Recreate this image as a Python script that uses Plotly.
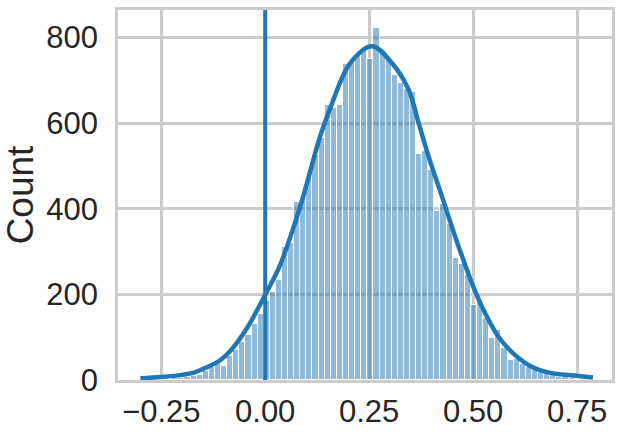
import plotly.graph_objects as go

# histogram: 74 equal bins starting at bin_start
bin_start = -0.2968
bin_width = 0.01466
counts = [
    1, 1, 2, 3, 3, 4, 5, 6, 9, 12,
    21, 30, 37, 33, 55, 71, 88, 106, 130, 155,
    185, 205, 234, 310, 321, 415, 424, 472, 526, 565,
    643, 636, 643, 738, 745, 760, 773, 750, 823, 768,
    750, 712, 695, 680, 673, 528, 534, 491, 395, 411,
    365, 284, 270, 245, 175, 187, 145, 98, 117, 74,
    47, 48, 38, 31, 24, 18, 13, 11, 8, 6,
    4, 3, 2, 1,
]

# kde curve
kde_x = [-0.300, -0.25, -0.20, -0.17, -0.14, -0.11, -0.084, -0.044, 0.0, 0.036,
         0.084, 0.132, 0.156, 0.204, 0.257, 0.305, 0.345, 0.369, 0.393, 0.425,
         0.465, 0.505, 0.529, 0.561, 0.601, 0.641, 0.689, 0.737, 0.788]
kde_y = [4, 7, 12, 18, 30, 45, 68, 121, 199, 269,
         405, 569, 634, 740, 780, 740, 678, 600, 522, 429,
         312, 207, 156, 101, 58, 31, 16, 11, 6]

ref_x = 0.0

x_ticks = [-0.25, 0.0, 0.25, 0.5, 0.75]
x_ticktext = ["\u22120.25", "0.00", "0.25", "0.50", "0.75"]
y_ticks = [0, 200, 400, 600, 800]

C0 = "#1f77b4"
GRID = "#cccccc"
TEXT = "#262626"

centers = [bin_start + (i + 0.5) * bin_width for i in range(len(counts))]

fig = go.Figure()
fig.add_trace(go.Bar(
    x=centers, y=counts, width=bin_width,
    marker=dict(color="rgba(31,119,180,0.5)", line=dict(color="white", width=1)),
    hoverinfo="skip",
))
fig.add_trace(go.Scatter(
    x=kde_x, y=kde_y, mode="lines",
    line=dict(color=C0, width=4.5, shape="spline", smoothing=1.0),
    hoverinfo="skip",
))
fig.add_vline(x=ref_x, line=dict(color=C0, width=4))

fig.update_layout(
    width=625, height=440,
    paper_bgcolor="white", plot_bgcolor="white",
    font=dict(family="Liberation Sans, Arial, sans-serif", size=31, color=TEXT),
    margin=dict(l=118, r=13, t=10, b=60),
    showlegend=False,
    bargap=0,
)
fig.update_xaxes(
    range=[-0.354, 0.834], automargin=False,
    tickvals=x_ticks, ticktext=x_ticktext,
    showgrid=True, gridcolor=GRID, gridwidth=2.5,
    showline=True, mirror=True, linecolor=GRID, linewidth=2.5,
    zeroline=False,
    ticks="outside", ticklen=2, tickcolor="rgba(0,0,0,0)",
)
fig.update_yaxes(
    range=[0, 864.5], automargin=False,
    tickvals=y_ticks,
    showgrid=True, gridcolor=GRID, gridwidth=2.5,
    showline=True, mirror=True, linecolor=GRID, linewidth=2.5,
    zeroline=False,
    ticks="outside", ticklen=11, tickcolor="rgba(0,0,0,0)",
    title=dict(text="Count", standoff=15),
)

# drop the browser's default page margin so the figure sits at (0, 0)
fig.write_html(
    "out.html",
    config={"displayModeBar": False},
    post_script="document.body.style.margin = '0';",
)
